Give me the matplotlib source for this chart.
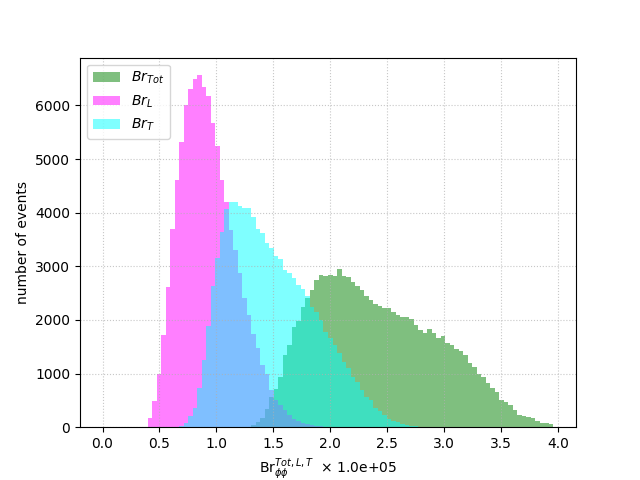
import numpy as np
import matplotlib
matplotlib.use('Agg')
import matplotlib.pyplot as plt

# common binning (in units of 1e5), 100 bins
bin_edges = np.linspace(0.0, 3.96, 101)

# counts per bin
tot_counts = [0] * 32 + [
    10, 40, 105, 167, 335, 560, 708, 943, 1347, 1534,
    1875, 1987, 2236, 2404, 2558, 2745, 2838, 2819, 2838, 2826,
    2944, 2819, 2795, 2714, 2633, 2558, 2447, 2372, 2297, 2260,
    2217, 2217, 2154, 2092, 2049, 2049, 2012, 1906, 1813, 1763,
    1826, 1763, 1670, 1701, 1577, 1534, 1453, 1422, 1347, 1204,
    1130, 993, 932, 832, 738, 664, 509, 478, 416, 323,
    230, 211, 186, 168, 124, 86, 75, 60]

l_counts = [0] * 10 + [
    170, 480, 990, 1720, 2620, 3690, 4610, 5310, 6005, 6300,
    6490, 6564, 6340, 6173, 5664, 5241, 4608, 4204, 3676, 3304,
    2870, 2404, 2092, 1740, 1470, 1160, 1000, 700, 509, 415,
    323, 230, 155, 120, 80, 60, 40, 25, 15, 8,
    4, 2] + [0] * 48

t_counts = [0] * 17 + [
    20, 70, 200, 354, 727, 1254, 1888, 2633, 3149, 3633,
    4067, 4204, 4204, 4130, 4080, 4080, 3924, 3700, 3627, 3440,
    3335, 3192, 3130, 2931, 2870, 2776, 2650, 2571, 2447, 2247,
    2154, 1999, 1782, 1658, 1534, 1379, 1223, 1099, 943, 850,
    695, 571, 509, 354, 304, 229, 149, 118, 105, 61,
    37, 24, 15, 10, 6, 3, 2] + [0] * 26

centers = 0.5 * (bin_edges[:-1] + bin_edges[1:])

fig, ax = plt.subplots(figsize=(6.4, 4.8), dpi=100)

ax.hist(centers, bins=bin_edges, weights=tot_counts, color='green', alpha=0.5, label=r'$Br_{Tot}$')
ax.hist(centers, bins=bin_edges, weights=l_counts, color='magenta', alpha=0.5, label=r'$Br_L$')
ax.hist(centers, bins=bin_edges, weights=t_counts, color='cyan', alpha=0.5, label=r'$Br_T$')

ax.set_xlabel(r'Br$_{\phi\phi}^{Tot,L,T}$  $\times$ 1.0e+05')
ax.set_ylabel('number of events')
ax.grid(True, linestyle=':', alpha=0.7)
ax.legend(loc='upper left')

fig.savefig('out.png')
